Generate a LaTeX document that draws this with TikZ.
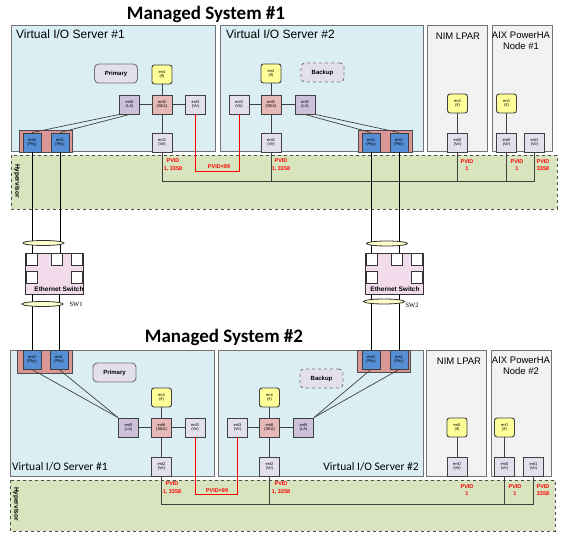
\documentclass[tikz,border=0pt]{standalone}
\usepackage{fontspec}
\setmainfont{Liberation Sans}
\newfontfamily\calfont{Carlito}
\newfontfamily\serfont{Liberation Serif}
\usetikzlibrary{shapes.geometric}
\definecolor{viosblue}{HTML}{DAEEF3}
\definecolor{lpargray}{HTML}{F2F2F2}
\definecolor{hypgreen}{HTML}{D7E4BD}
\definecolor{virlav}{HTML}{E4DFEC}
\definecolor{lalav}{HTML}{CCC0DA}
\definecolor{seapink}{HTML}{E6B9B8}
\definecolor{ifyellow}{HTML}{FFFF99}
\definecolor{phyblue}{HTML}{558ED5}
\definecolor{adaptred}{HTML}{D99694}
\definecolor{swpink}{HTML}{F2DCEB}
\definecolor{cabyellow}{HTML}{FFFFCC}
\definecolor{pvidred}{HTML}{FF0000}

\begin{document}
\begin{tikzpicture}[x=1pt,y=-1pt]
\tikzstyle{mybox} = [draw=black!75, line width=0.9pt, minimum width=20pt, minimum height=19pt, inner sep=0pt, align=center, font=\fontsize{4}{4.6}\selectfont]
\tikzstyle{myvir} = [mybox, fill=virlav]
\tikzstyle{myla} = [mybox, fill=lalav]
\tikzstyle{mysea} = [mybox, fill=seapink]
\tikzstyle{myif} = [mybox, fill=ifyellow, rounded corners=2.5pt]
\tikzstyle{myphy} = [mybox, fill=phyblue, minimum width=18pt]
\tikzstyle{myadapt} = [fill=adaptred, draw=black!70, line width=0.6pt, inner sep=0pt]
\tikzstyle{myvios} = [fill=viosblue, draw=black!55, line width=1pt]
\tikzstyle{mylpar} = [fill=lpargray, draw=black!55, line width=1pt]
\tikzstyle{myhyp} = [fill=hypgreen, draw=black!70, dashed, line width=0.9pt]
\tikzstyle{myrole} = [draw=black!55, fill=virlav, rounded corners=4pt, minimum width=43pt, minimum height=19pt, inner sep=0pt, font=\fontsize{6}{6}\selectfont\bfseries, line width=0.9pt]
\tikzstyle{mypvid} = [text=pvidred, font=\fontsize{5.5}{7.5}\selectfont\bfseries, align=center, inner sep=0pt]
\tikzstyle{myswitch} = [draw=black!80, fill=swpink, line width=0.9pt, minimum width=58pt, minimum height=41pt, inner sep=0pt]
\tikzstyle{myport} = [draw=black!80, fill=white, line width=0.8pt, minimum width=11pt, minimum height=12pt, inner sep=0pt]
\tikzstyle{mybundle} = [ellipse, draw=black!80, fill=cabyellow, line width=0.8pt, minimum width=41pt, minimum height=5pt, inner sep=0pt]
\tikzset{cable/.style={line width=0.9pt}, link/.style={draw=black!75, line width=0.7pt}, redlink/.style={draw=pvidred, line width=0.9pt},
  mstitle/.style={font=\calfont\bfseries\fontsize{19}{20}\selectfont},
  lpartitle/.style={font=\fontsize{9.5}{10.5}\selectfont, align=center, inner sep=0pt},
  hyptext/.style={font=\fontsize{6.5}{7}\selectfont\bfseries, rotate=-90, inner sep=0pt}}
\fill[white] (0,0) rectangle (580,537);
\useasboundingbox (0,0) rectangle (580,537);

\node[mstitle] (ms1) at (206,14) {Managed System \#1};
\draw[myvios] (11,26) rectangle (215,152);
\draw[myvios] (220,26) rectangle (423,152);
\draw[mylpar] (427,26) rectangle (487,152);
\draw[mylpar] (492,26) rectangle (552,152);
\draw[myhyp] (11,155) rectangle (557,209);
\node[anchor=north west, font=\fontsize{12}{13}\selectfont, inner sep=0pt] (v1t) at (16,30) {Virtual I/O Server \#1};
\node[anchor=north west, font=\fontsize{12}{13}\selectfont, inner sep=0pt] (v2t) at (226,30) {Virtual I/O Server \#2};
\node[lpartitle] (nm1t) at (458,36) {NIM LPAR};
\node[lpartitle] (a1t) at (521,41) {AIX PowerHA\\Node \#1};
\node[hyptext] (h1t) at (17,181) {Hypervisor};

\coordinate (bus1) at (0,181);
\coordinate (red1) at (0,171);
\coordinate (bus2) at (0,504);
\coordinate (red2) at (0,494);

\node[myadapt, minimum width=53pt, minimum height=22pt] (v1ad) at (45.5,141) {};
\node[myphy] (v1e0) at (32,142.5) {ent0\\(Phy)};
\node[myphy] (v1e1) at (60,142.5) {ent1\\(Phy)};
\node[myrole] (v1pri) at (116,73.5) {Primary};
\node[myif] (v1en4) at (162,74.5) {en4\\(if)};
\node[myla] (v1e5) at (129.5,104.5) {ent5\\(LA)};
\node[mysea] (v1e6) at (162,104.5) {ent6\\(SEA)};
\node[myvir] (v1e3) at (195.5,104.5) {ent3\\(Vir)};
\node[myvir] (v1e2) at (162,142.5) {ent2\\(Vir)};

\node[myadapt, minimum width=54pt, minimum height=22pt] (v2ad) at (385,141) {};
\node[myphy] (v2e0) at (371,142.5) {ent0\\(Phy)};
\node[myphy] (v2e1) at (399,142.5) {ent1\\(Phy)};
\node[myrole, dashed] (v2bak) at (322.5,72.5) {Backup};
\node[myif] (v2en4) at (271,73.5) {en4\\(if)};
\node[myvir] (v2e3) at (239,104.5) {ent3\\(Vir)};
\node[mysea] (v2e6) at (271,104.5) {ent6\\(SEA)};
\node[myla] (v2e5) at (305,104.5) {ent5\\(LA)};
\node[myvir] (v2e2) at (271,142.5) {ent2\\(Vir)};

\node[myif] (nm1en0) at (457.5,103.5) {en0\\(if)};
\node[myvir] (nm1e0) at (457.5,142.5) {ent0\\(Vir)};
\node[myif] (a1en0) at (506.5,103.5) {en0\\(if)};
\node[myvir] (a1e0) at (506.5,142.5) {ent0\\(Vir)};
\node[myvir] (a1e1) at (534.5,142.5) {ent1\\(Vir)};

\draw[link] (v1en4) -- (v1e6) -- (v1e2);
\draw[link] (v1e5) -- (v1e6) -- (v1e3);
\draw[link] (v1e0.north) -- (v1e5.south west);
\draw[link] (v1e1.north) -- (v1e5.south);
\draw[link] (v2en4) -- (v2e6) -- (v2e2);
\draw[link] (v2e3) -- (v2e6) -- (v2e5);
\draw[link] (v2e5.south) -- (v2e0.north);
\draw[link] (v2e5.south east) -- (v2e1.north);
\draw[link] (nm1en0) -- (nm1e0);
\draw[link] (a1en0) -- (a1e0);
\draw[link] (v1e2) -- (v1e2 |- bus1) -| (a1e1);
\draw[link] (v2e2) -- (v2e2 |- bus1);
\draw[link] (nm1e0) -- (nm1e0 |- bus1);
\draw[link] (a1e0) -- (a1e0 |- bus1);
\draw[redlink] (v1e3) -- (v1e3 |- red1) -| (v2e3);
\node[mypvid] (p1a) at (173,165) {PVID\\1, 3358};
\node[mypvid] (p1b) at (219,167) {PVID=99};
\node[mypvid] (p1c) at (281,165) {PVID\\1, 3358};
\node[mypvid] (p1d) at (467,165) {PVID\\1};
\node[mypvid] (p1e) at (517,165) {PVID\\1};
\node[mypvid] (p1f) at (543,165) {PVID\\3358};

\node[mstitle] (ms2) at (224,337) {Managed System \#2};
\draw[myvios] (10,350) rectangle (214,476);
\draw[myvios] (218,350) rectangle (423,476);
\draw[mylpar] (426,350) rectangle (486,476);
\draw[mylpar] (491,350) rectangle (551,476);
\draw[myhyp] (10,480) rectangle (555,531);
\node[anchor=west, font=\calfont\fontsize{11.5}{12}\selectfont, inner sep=0pt] (w1t) at (12,467) {Virtual I/O Server \#1};
\node[anchor=east, font=\calfont\fontsize{11.5}{12}\selectfont, inner sep=0pt] (w2t) at (419,467) {Virtual I/O Server \#2};
\node[lpartitle] (nm2t) at (459,361) {NIM LPAR};
\node[lpartitle] (a2t) at (521,366) {AIX PowerHA\\Node \#2};
\node[hyptext] (h2t) at (16,504) {Hypervisor};

\node[myadapt, minimum width=55pt, minimum height=23pt] (w1ad) at (44.5,361.5) {};
\node[myphy] (w1e0) at (32,359.5) {ent0\\(Phy)};
\node[myphy] (w1e1) at (59,359.5) {ent1\\(Phy)};
\node[myrole] (w1pri) at (114.5,372.5) {Primary};
\node[myif] (w1en4) at (161.5,397.5) {en4\\(if)};
\node[myla] (w1e5) at (128.5,427.5) {ent5\\(LA)};
\node[mysea] (w1e6) at (161.5,427.5) {ent6\\(SEA)};
\node[myvir] (w1e3) at (195,427.5) {ent3\\(Vir)};
\node[myvir] (w1e2) at (161.5,466.5) {ent2\\(Vir)};

\node[myadapt, minimum width=53pt, minimum height=22pt] (w2ad) at (383.5,361) {};
\node[myphy] (w2e0) at (371,359.5) {ent0\\(Phy)};
\node[myphy] (w2e1) at (399,359.5) {ent1\\(Phy)};
\node[myrole, dashed] (w2bak) at (321.5,378.5) {Backup};
\node[myif] (w2en4) at (269.5,397.5) {en4\\(if)};
\node[myvir] (w2e3) at (237.5,427.5) {ent3\\(Vir)};
\node[mysea] (w2e6) at (269.5,427.5) {ent6\\(SEA)};
\node[myla] (w2e5) at (303.5,427.5) {ent5\\(LA)};
\node[myvir] (w2e2) at (269.5,466.5) {ent2\\(Vir)};

\node[myif] (nm2en0) at (457,427.5) {en0\\(if)};
\node[myvir] (nm2e0) at (457,466.5) {ent0\\(Vir)};
\node[myif] (a2en0) at (504.5,427.5) {en0\\(if)};
\node[myvir] (a2e0) at (504.5,466.5) {ent0\\(Vir)};
\node[myvir] (a2e1) at (533.5,466.5) {ent1\\(Vir)};

\draw[link] (w1en4) -- (w1e6) -- (w1e2);
\draw[link] (w1e5) -- (w1e6) -- (w1e3);
\draw[link] (w1e0.south) -- (w1e5.north west);
\draw[link] (w1e1.south) -- (w1e5.north west);
\draw[link] (w2en4) -- (w2e6) -- (w2e2);
\draw[link] (w2e3) -- (w2e6) -- (w2e5);
\draw[link] (w2e5.north east) -- (w2e0.south);
\draw[link] (w2e5.north east) -- (w2e1.south);
\draw[link] (nm2en0) -- (nm2e0);
\draw[link] (a2en0) -- (a2e0);
\draw[link] (w1e2) -- (w1e2 |- bus2) -| (a2e1);
\draw[link] (w2e2) -- (w2e2 |- bus2);
\draw[link] (a2e0) -- (a2e0 |- bus2);
\draw[redlink] (w1e3) -- (w1e3 |- red2) -| (w2e3);
\node[mypvid] (p2a) at (172,488) {PVID\\1, 3358};
\node[mypvid] (p2b) at (217,491) {PVID=99};
\node[mypvid] (p2c) at (281,488) {PVID\\1, 3358};
\node[mypvid] (p2d) at (467,490) {PVID\\1};
\node[mypvid] (p2e) at (515,490) {PVID\\1};
\node[mypvid] (p2f) at (543,490) {PVID\\3358};

\node[myswitch] (sw1) at (54,273.5) {};
\node[myport] (sw1pa) at (31.5,259) {};
\node[myport] (sw1pb) at (57,259) {};
\node[myport] (sw1pc) at (77,259) {};
\node[myport] (sw1pd) at (31.5,277) {};
\node[myport] (sw1pe) at (77,277) {};
\node[font=\fontsize{6.5}{7}\selectfont\bfseries, inner sep=0pt] (sw1t) at (59,289) {Ethernet Switch};
\node[font=\serfont\fontsize{6.5}{7}\selectfont, inner sep=0pt] (sw1n) at (76,304) {SW1};
\node[myswitch] (sw2) at (394,273.5) {};
\node[myport] (sw2pa) at (371.5,259) {};
\node[myport] (sw2pb) at (397,259) {};
\node[myport] (sw2pc) at (417,259) {};
\node[myport] (sw2pd) at (371.5,277) {};
\node[myport] (sw2pe) at (417,277) {};
\node[font=\fontsize{6.5}{7}\selectfont\bfseries, inner sep=0pt] (sw2t) at (395,289) {Ethernet Switch};
\node[font=\serfont\fontsize{6.5}{7}\selectfont, inner sep=0pt] (sw2n) at (412,305) {SW2};

\draw[cable] (v1e0) -- (v1e0 |- sw1pa.north);
\draw[cable] (v1e1) -- (v1e1 |- sw1pb.north);
\draw[cable] (sw1.south -| w1e0) -- (w1e0);
\draw[cable] (sw1.south -| w1e1) -- (w1e1);
\draw[cable] (v2e0) -- (v2e0 |- sw2pa.north);
\draw[cable] (v2e1) -- (v2e1 |- sw2pb.north);
\draw[cable] (sw2.south -| w2e0) -- (w2e0);
\draw[cable] (sw2.south -| w2e1) -- (w2e1);
\node[mybundle] (bd1a) at (43.5,243) {};
\node[mybundle] (bd1b) at (42.5,304) {};
\node[mybundle] (bd2a) at (387,243.5) {};
\node[mybundle] (bd2b) at (384,301.5) {};
\end{tikzpicture}
\end{document}
